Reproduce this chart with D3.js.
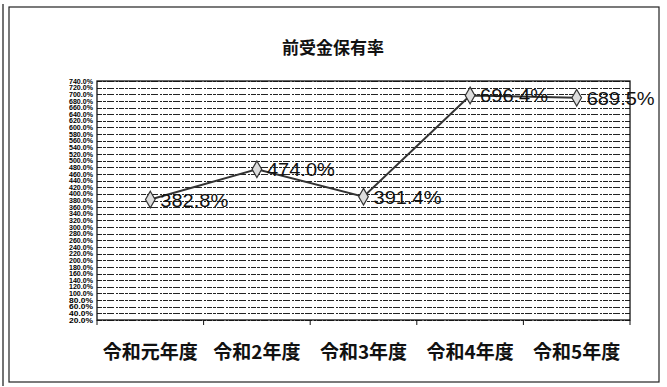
<!DOCTYPE html>
<html>
<head>
<meta charset="utf-8">
<script src="https://cdn.jsdelivr.net/npm/d3@7"></script>
<style>
  html, body { margin: 0; padding: 0; background: #fff; }
  svg { display: block; }
</style>
</head>
<body>
<svg id="chart" width="667" height="387"></svg>
<script>
// 前受金保有率 by fiscal year
const categories = ["令和元年度", "令和2年度", "令和3年度", "令和4年度", "令和5年度"];
const values = [382.8, 474.0, 391.4, 696.4, 689.5];
const yMin = 20;
const yMax = 740;
const yStep = 20;
const yTicks = d3.range(yMin, yMax + yStep / 2, yStep);

const svg = d3.select("#chart");
const plot = { left: 97, right: 630, top: 81, bottom: 320 };

const jp = "'Noto Sans CJK JP', 'Noto Sans', sans-serif";
const num = "'Liberation Sans', Arial, sans-serif";

// outer frame of the chart
svg.append("rect")
  .attr("x", 9).attr("y", 7).attr("width", 650).attr("height", 375)
  .attr("fill", "#fff").attr("stroke", "#222").attr("stroke-width", 1.2);
svg.append("line")
  .attr("x1", 3).attr("x2", 3).attr("y1", 4).attr("y2", 386)
  .attr("stroke", "#444").attr("stroke-width", 1.5);

// title
svg.append("text")
  .attr("x", 333).attr("y", 54)
  .attr("text-anchor", "middle")
  .attr("font-family", jp).attr("font-weight", "bold")
  .attr("font-size", 17).attr("fill", "#111")
  .text("前受金保有率");

const x = d3.scalePoint()
  .domain(categories)
  .range([plot.left, plot.right])
  .padding(0.5);
const xBand = d3.scaleBand()
  .domain(categories)
  .range([plot.left, plot.right]);
const y = d3.scaleLinear()
  .domain([yMin, yMax])
  .range([plot.bottom, plot.top]);

// dense horizontal gridlines
svg.append("g")
  .selectAll("line")
  .data(yTicks)
  .join("line")
  .attr("x1", plot.left).attr("x2", plot.right)
  .attr("y1", d => Math.round(y(d)) + 0.5)
  .attr("y2", d => Math.round(y(d)) + 0.5)
  .attr("stroke", "#222")
  .attr("stroke-width", 1.2)
  .attr("stroke-dasharray", "5 1 3 1 7 2 2 1");

// plot area border
svg.append("rect")
  .attr("x", plot.left).attr("y", plot.top)
  .attr("width", plot.right - plot.left).attr("height", plot.bottom - plot.top)
  .attr("fill", "none").attr("stroke", "#111").attr("stroke-width", 1.3);

// y axis labels (crowded, condensed)
const yAxis = d3.axisLeft(y)
  .tickValues(yTicks)
  .tickSize(0)
  .tickPadding(3)
  .tickFormat(d => d.toFixed(1) + "%");
const gy = svg.append("g")
  .attr("transform", `translate(${plot.left - 1},0)`)
  .call(yAxis);
gy.select(".domain").remove();
gy.selectAll("text")
  .attr("font-family", num)
  .attr("font-weight", "bold")
  .attr("font-size", 6.6)
  .attr("fill", "#000")
  .attr("textLength", 24)
  .attr("lengthAdjust", "spacingAndGlyphs");

// x axis with category ticks between bands
const gx = svg.append("g")
  .attr("transform", `translate(0,${plot.bottom})`);
gx.selectAll("line")
  .data(categories.concat(["_end"]))
  .join("line")
  .attr("x1", (d, i) => plot.left + i * xBand.bandwidth())
  .attr("x2", (d, i) => plot.left + i * xBand.bandwidth())
  .attr("y1", 0).attr("y2", 5)
  .attr("stroke", "#111");
gx.selectAll("text")
  .data(categories)
  .join("text")
  .attr("x", d => x(d))
  .attr("y", 39)
  .attr("text-anchor", "middle")
  .attr("font-family", jp)
  .attr("font-weight", "bold")
  .attr("font-size", 19)
  .attr("fill", "#111")
  .text(d => d);

// line
const pts = categories.map((c, i) => [x(c), y(values[i])]);
svg.append("path")
  .attr("d", d3.line()(pts))
  .attr("fill", "none")
  .attr("stroke", "#333")
  .attr("stroke-width", 2);

// diamond markers
svg.append("g")
  .selectAll("path")
  .data(pts)
  .join("path")
  .attr("transform", d => `translate(${d[0]},${d[1]})`)
  .attr("d", d3.symbol().type(d3.symbolDiamond).size(80))
  .attr("fill", "#ddd")
  .attr("stroke", "#333")
  .attr("stroke-width", 1.2);

// data labels
svg.append("g")
  .selectAll("text")
  .data(values)
  .join("text")
  .attr("x", (d, i) => x(categories[i]) + 10)
  .attr("y", d => y(d) + 7)
  .attr("font-family", num)
  .attr("font-size", 18)
  .attr("fill", "#111")
  .attr("textLength", 68)
  .attr("lengthAdjust", "spacingAndGlyphs")
  .text(d => d.toFixed(1) + "%");
</script>
</body>
</html>
